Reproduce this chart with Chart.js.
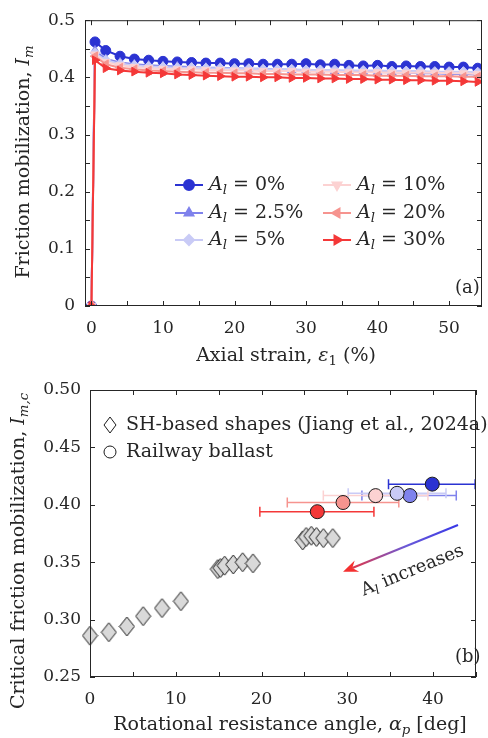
<!DOCTYPE html>
<html>
<head>
<meta charset="utf-8">
<script src="https://cdn.jsdelivr.net/npm/chart.js@4.4.1/dist/chart.umd.min.js"></script>
<style>
  html, body { margin: 0; padding: 0; background: #fff; }
  canvas { display: block; }
</style>
</head>
<body>
<canvas id="strainChart" width="488" height="370"></canvas>
<canvas id="angleChart" width="488" height="368"></canvas>
<script>
// ---- panel (a): friction mobilization vs axial strain ----
const strain = [0, 0.5, 2, 4, 6, 8, 10, 12, 14, 16, 18, 20, 22, 24, 26, 28, 30, 32, 34, 36, 38, 40, 42, 44, 46, 48, 50, 52, 54];
const im0 = [0, 0.462, 0.447, 0.437, 0.432, 0.430, 0.428, 0.427, 0.426, 0.425, 0.425, 0.424, 0.424, 0.423, 0.423, 0.423, 0.424, 0.422, 0.423, 0.421, 0.420, 0.421, 0.419, 0.420, 0.419, 0.419, 0.418, 0.418, 0.416];
const im25 = [0, 0.447, 0.432, 0.426, 0.423, 0.421, 0.420, 0.419, 0.418, 0.417, 0.417, 0.416, 0.415, 0.415, 0.414, 0.413, 0.413, 0.412, 0.411, 0.411, 0.410, 0.409, 0.409, 0.408, 0.407, 0.407, 0.406, 0.406, 0.405];
const im5 = [0, 0.443, 0.430, 0.424, 0.421, 0.419, 0.418, 0.417, 0.417, 0.416, 0.416, 0.415, 0.415, 0.414, 0.414, 0.414, 0.413, 0.413, 0.413, 0.412, 0.412, 0.412, 0.411, 0.411, 0.411, 0.410, 0.410, 0.410, 0.409];
const im10 = [0, 0.440, 0.427, 0.421, 0.418, 0.416, 0.415, 0.414, 0.414, 0.413, 0.413, 0.412, 0.412, 0.411, 0.411, 0.411, 0.410, 0.410, 0.410, 0.409, 0.409, 0.409, 0.408, 0.408, 0.408, 0.408, 0.407, 0.407, 0.406];
const im20 = [0, 0.437, 0.423, 0.417, 0.414, 0.412, 0.411, 0.410, 0.409, 0.408, 0.408, 0.407, 0.407, 0.406, 0.406, 0.405, 0.405, 0.405, 0.404, 0.404, 0.404, 0.403, 0.403, 0.403, 0.402, 0.402, 0.402, 0.401, 0.401];
const im30 = [0, 0.430, 0.416, 0.412, 0.410, 0.408, 0.407, 0.405, 0.404, 0.403, 0.402, 0.401, 0.401, 0.400, 0.400, 0.399, 0.399, 0.398, 0.398, 0.397, 0.397, 0.396, 0.396, 0.395, 0.395, 0.394, 0.394, 0.393, 0.392];
const contentLabels = ['0%', '2.5%', '5%', '10%', '20%', '30%'];
const strainTicks = [0, 5, 10, 15, 20, 25, 30, 35, 40, 45, 50];
const imTicks = [0, 0.05, 0.1, 0.15, 0.2, 0.25, 0.3, 0.35, 0.4, 0.45, 0.5];

// ---- panel (b): critical friction mobilization vs rotational resistance ----
const shAngle = [0, 2.2, 4.3, 6.2, 8.4, 10.6, 14.9, 15.2, 15.7, 16.7, 17.8, 19.0, 24.8, 25.2, 25.8, 26.4, 27.2, 28.3];
const shIm = [0.286, 0.289, 0.294, 0.303, 0.310, 0.316, 0.344, 0.345, 0.347, 0.348, 0.350, 0.349, 0.369, 0.372, 0.373, 0.372, 0.371, 0.371];
const ballastAngle = [39.9, 37.3, 35.8, 33.3, 29.5, 26.5];
const ballastIm = [0.418, 0.408, 0.410, 0.408, 0.402, 0.394];
const ballastLow = [34.8, 31.7, 30.1, 27.2, 23.0, 19.8];
const ballastHigh = [44.9, 42.7, 41.5, 39.4, 36.0, 33.1];
const angleTicks = [0, 5, 10, 15, 20, 25, 30, 35, 40, 45];
const imcTicks = [0.25, 0.3, 0.35, 0.4, 0.45, 0.5];
const arrowTail = [42.9, 0.3824];
const arrowHead = [29.5, 0.3417];
const arrowLabelAt = [37.6, 0.3425];

const colors = ['#2b33d2', '#7f82ec', '#c9cbf6', '#fcd2d2', '#f6948f', '#f43838'];
const markers = [
  { pointStyle: 'circle', rotation: 0 },
  { pointStyle: 'triangle', rotation: 0 },
  { pointStyle: 'rectRot', rotation: 0 },
  { pointStyle: 'triangle', rotation: 180 },
  { pointStyle: 'triangle', rotation: -90 },
  { pointStyle: 'triangle', rotation: 90 },
];

const ink = '#262626';
const serif = "'DejaVu Serif', serif";
const tickSize = 17;
const textSize = 19;

// draw text made of plain / italic / subscript pieces
function mathWidth(ctx, segs, size) {
  let w = 0;
  segs.forEach(s => {
    const fs = s.sub ? size * 0.7 : size;
    ctx.font = (s.it ? 'italic ' : '') + fs + 'px ' + serif;
    w += ctx.measureText(s.t).width;
  });
  return w;
}

function drawMath(ctx, segs, x, y, size, align) {
  ctx.save();
  ctx.textBaseline = 'middle';
  ctx.textAlign = 'left';
  ctx.fillStyle = ink;
  let cx = align === 'center' ? x - mathWidth(ctx, segs, size) / 2 : x;
  segs.forEach(s => {
    const fs = s.sub ? size * 0.7 : size;
    ctx.font = (s.it ? 'italic ' : '') + fs + 'px ' + serif;
    ctx.fillText(s.t, cx, s.sub ? y + size * 0.28 : y);
    cx += ctx.measureText(s.t).width;
  });
  ctx.restore();
}

function drawRotated(ctx, segs, x, y, size, angle) {
  ctx.save();
  ctx.translate(x, y);
  ctx.rotate(angle);
  drawMath(ctx, segs, 0, 0, size, 'center');
  ctx.restore();
}

// MATLAB-like box with inward ticks on all four sides
function boxAndTicks(chart, xTicks, yTicks) {
  const { ctx, chartArea: a, scales } = chart;
  const len = 5;
  ctx.save();
  ctx.strokeStyle = ink;
  ctx.lineWidth = 1;
  ctx.strokeRect(a.left + 0.5, a.top + 0.5, a.right - a.left - 1, a.bottom - a.top - 1);
  ctx.beginPath();
  xTicks.forEach(v => {
    const px = Math.round(scales.x.getPixelForValue(v)) + 0.5;
    ctx.moveTo(px, a.bottom); ctx.lineTo(px, a.bottom - len);
    ctx.moveTo(px, a.top); ctx.lineTo(px, a.top + len);
  });
  yTicks.forEach(v => {
    const py = Math.round(scales.y.getPixelForValue(v)) + 0.5;
    ctx.moveTo(a.left, py); ctx.lineTo(a.left + len, py);
    ctx.moveTo(a.right, py); ctx.lineTo(a.right - len, py);
  });
  ctx.stroke();
  ctx.restore();
}

function axisOptions(ticks, min, max, labelFn, padding, fitKey, fitSize) {
  return {
    type: 'linear',
    min,
    max,
    afterBuildTicks: scale => { scale.ticks = ticks.map(v => ({ value: v })); },
    afterFit: scale => { scale[fitKey] = fitSize; },
    grid: { display: false, drawTicks: false },
    border: { display: false },
    ticks: {
      autoSkip: false,
      maxRotation: 0,
      padding,
      color: ink,
      font: { family: serif, size: tickSize },
      callback: labelFn,
    },
  };
}

// ---------- chart (a) ----------
const strainPlugin = {
  id: 'strainDecor',
  afterDraw(chart) {
    const { ctx } = chart;
    boxAndTicks(chart, strainTicks, imTicks);
    drawMath(ctx, [{ t: 'Axial strain, ' }, { t: 'ε', it: true }, { t: '1', sub: true }, { t: ' (%)' }], 286, 356, textSize, 'center');
    drawRotated(ctx, [{ t: 'Friction mobilization, ' }, { t: 'I', it: true }, { t: 'm', it: true, sub: true }], 24, 162, textSize, -Math.PI / 2);
    drawMath(ctx, [{ t: '(a)' }], 455, 288, 18, 'left');

    // legend, two columns of three
    const cols = [175, 323];
    const rows = [185, 213, 240];
    contentLabels.forEach((lab, i) => {
      const x0 = cols[Math.floor(i / 3)];
      const y0 = rows[i % 3];
      ctx.save();
      ctx.strokeStyle = colors[i];
      ctx.fillStyle = colors[i];
      ctx.lineWidth = 2;
      ctx.beginPath();
      ctx.moveTo(x0, y0); ctx.lineTo(x0 + 28, y0);
      ctx.stroke();
      Chart.helpers.drawPoint(ctx, { pointStyle: markers[i].pointStyle, rotation: markers[i].rotation, radius: 5, borderWidth: 1 }, x0 + 14, y0);
      ctx.restore();
      drawMath(ctx, [{ t: 'A', it: true }, { t: 'l', it: true, sub: true }, { t: ' = ' + lab }], x0 + 34, y0, textSize, 'left');
    });
  },
};

const seriesList = [im0, im25, im5, im10, im20, im30];

new Chart(document.getElementById('strainChart'), {
  type: 'line',
  data: {
    datasets: seriesList.map((vals, i) => ({
      label: contentLabels[i],
      data: strain.map((s, k) => ({ x: s, y: vals[k] })),
      order: seriesList.length - i,
      borderColor: colors[i],
      backgroundColor: colors[i],
      borderWidth: 2,
      pointStyle: markers[i].pointStyle,
      rotation: markers[i].rotation,
      pointRadius: 5,
      pointBorderWidth: 1,
      tension: 0,
    })),
  },
  options: {
    responsive: false,
    animation: false,
    layout: { padding: { top: 18, right: 3, left: 0, bottom: 0 } },
    plugins: { legend: { display: false }, tooltip: { enabled: false } },
    scales: {
      x: axisOptions(strainTicks, -0.9, 54.6, v => (v % 10 === 0 ? String(v) : ''), 12, 'height', 64),
      y: axisOptions(imTicks, 0, 0.5, v => (Math.round(v * 100) % 10 === 0 ? String(Math.round(v * 10) / 10) : ''), 10, 'width', 85),
    },
  },
  plugins: [strainPlugin],
});

// ---------- chart (b) ----------
function makeDiamond(w, h, fill) {
  const c = document.createElement('canvas');
  c.width = w + 2;
  c.height = h + 2;
  const g = c.getContext('2d');
  g.beginPath();
  g.moveTo(c.width / 2, 1);
  g.lineTo(c.width - 1, c.height / 2);
  g.lineTo(c.width / 2, c.height - 1);
  g.lineTo(1, c.height / 2);
  g.closePath();
  g.fillStyle = fill;
  g.fill();
  g.strokeStyle = '#1a1a1a';
  g.lineWidth = 1;
  g.stroke();
  return c;
}

const greyDiamond = makeDiamond(15, 19, '#d9d9d9');
const whiteDiamond = makeDiamond(12, 16, '#ffffff');

const anglePlugin = {
  id: 'angleDecor',
  beforeDatasetsDraw(chart) {
    const { ctx, scales } = chart;
    ctx.save();
    ctx.lineWidth = 1.5;
    ballastAngle.forEach((a, i) => {
      const y = scales.y.getPixelForValue(ballastIm[i]);
      const x1 = scales.x.getPixelForValue(ballastLow[i]);
      const x2 = scales.x.getPixelForValue(ballastHigh[i]);
      ctx.strokeStyle = colors[i];
      ctx.beginPath();
      ctx.moveTo(x1, y); ctx.lineTo(x2, y);
      ctx.moveTo(x1, y - 5); ctx.lineTo(x1, y + 5);
      ctx.moveTo(x2, y - 5); ctx.lineTo(x2, y + 5);
      ctx.stroke();
    });
    ctx.restore();
  },
  afterDraw(chart) {
    const { ctx, scales } = chart;
    boxAndTicks(chart, angleTicks, imcTicks);
    drawMath(ctx, [{ t: 'Rotational resistance angle, ' }, { t: 'α', it: true }, { t: 'p', it: true, sub: true }, { t: ' [deg]' }], 290, 355, textSize, 'center');
    drawRotated(ctx, [{ t: 'Critical friction mobilization, ' }, { t: 'I', it: true }, { t: 'm,c', it: true, sub: true }], 19, 181, textSize, -Math.PI / 2);
    drawMath(ctx, [{ t: '(b)' }], 455, 287, 18, 'left');

    // legend
    ctx.drawImage(whiteDiamond, 110 - whiteDiamond.width / 2, 55 - whiteDiamond.height / 2);
    ctx.save();
    ctx.strokeStyle = '#1a1a1a';
    ctx.lineWidth = 1;
    ctx.beginPath();
    ctx.arc(110, 82, 6, 0, Math.PI * 2);
    ctx.stroke();
    ctx.restore();
    drawMath(ctx, [{ t: 'SH-based shapes (Jiang et al., 2024a)' }], 126, 55, textSize, 'left');
    drawMath(ctx, [{ t: 'Railway ballast' }], 126, 82, textSize, 'left');

    // arrow with blue-to-red gradient
    const tx = scales.x.getPixelForValue(arrowTail[0]);
    const ty = scales.y.getPixelForValue(arrowTail[1]);
    const hx = scales.x.getPixelForValue(arrowHead[0]);
    const hy = scales.y.getPixelForValue(arrowHead[1]);
    const ang = Math.atan2(hy - ty, hx - tx);
    const grad = ctx.createLinearGradient(tx, ty, hx, hy);
    grad.addColorStop(0, '#3737e6');
    grad.addColorStop(0.45, '#6a5ad8');
    grad.addColorStop(1, '#f43030');
    ctx.save();
    ctx.strokeStyle = grad;
    ctx.lineWidth = 2;
    ctx.beginPath();
    ctx.moveTo(tx, ty);
    ctx.lineTo(hx - 10 * Math.cos(ang), hy - 10 * Math.sin(ang));
    ctx.stroke();
    ctx.fillStyle = '#f43030';
    ctx.beginPath();
    ctx.moveTo(hx, hy);
    ctx.lineTo(hx - 15 * Math.cos(ang) + 6 * Math.sin(ang), hy - 15 * Math.sin(ang) - 6 * Math.cos(ang));
    ctx.lineTo(hx - 10 * Math.cos(ang), hy - 10 * Math.sin(ang));
    ctx.lineTo(hx - 15 * Math.cos(ang) - 6 * Math.sin(ang), hy - 15 * Math.sin(ang) + 6 * Math.cos(ang));
    ctx.closePath();
    ctx.fill();
    ctx.restore();

    const lx = scales.x.getPixelForValue(arrowLabelAt[0]);
    const ly = scales.y.getPixelForValue(arrowLabelAt[1]);
    drawRotated(ctx, [{ t: 'A' }, { t: 'l', it: true, sub: true }, { t: ' increases' }], lx, ly, 18, ang + Math.PI);
  },
};

new Chart(document.getElementById('angleChart'), {
  type: 'scatter',
  data: {
    datasets: [
      {
        label: 'Railway ballast',
        data: ballastAngle.map((a, i) => ({ x: a, y: ballastIm[i] })),
        backgroundColor: colors,
        borderColor: '#1a1a1a',
        borderWidth: 1,
        pointRadius: 7,
      },
      {
        label: 'SH-based shapes (Jiang et al., 2024a)',
        data: shAngle.map((a, i) => ({ x: a, y: shIm[i] })),
        pointStyle: greyDiamond,
      },
    ],
  },
  options: {
    responsive: false,
    animation: false,
    clip: false,
    layout: { padding: { top: 20, right: 3, left: 0, bottom: 0 } },
    plugins: { legend: { display: false }, tooltip: { enabled: false } },
    scales: {
      x: axisOptions(angleTicks, 0, 45, v => (v % 10 === 0 ? String(v) : ''), 12, 'height', 61),
      y: axisOptions(imcTicks, 0.25, 0.5, v => v.toFixed(2), 9, 'width', 90),
    },
  },
  plugins: [anglePlugin],
});
</script>
</body>
</html>
